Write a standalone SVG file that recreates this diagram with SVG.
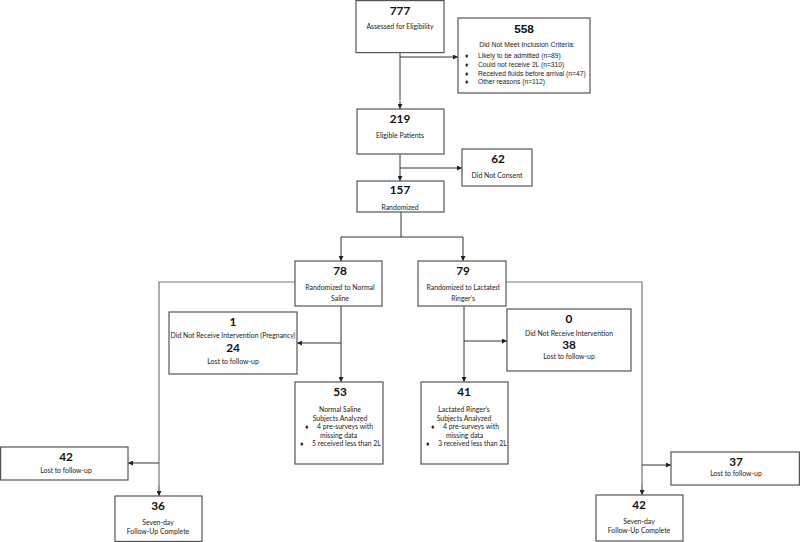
<svg xmlns="http://www.w3.org/2000/svg" width="800" height="542" viewBox="0 0 800 542">
<defs>
<marker id="ah" viewBox="0 0 6 6" refX="6" refY="3" markerWidth="5" markerHeight="5" orient="auto" markerUnits="userSpaceOnUse">
<path d="M0,0 L6,3 L0,6 z" fill="#222"/>
</marker>
<style>
.box{fill:#fff;stroke:#555;stroke-width:1.2}
.num{font-family:Lato,"Open Sans",sans-serif;font-weight:bold;font-size:11.8px;fill:#111;text-anchor:middle}
.lbl{font-family:Lato,"Open Sans",sans-serif;font-size:6.9px;fill:#222;text-anchor:middle}
.lbs{font-family:Lato,"Open Sans",sans-serif;font-size:6.9px;fill:#222}
.ar{font-family:"Liberation Sans",Arial,sans-serif;font-size:6.7px;fill:#222}
.arc{font-family:"Liberation Sans",Arial,sans-serif;font-size:6.9px;fill:#222;text-anchor:middle}
.arn{font-family:"Liberation Sans",Arial,sans-serif;font-weight:bold;font-size:11.8px;fill:#111;text-anchor:middle}
.ln{fill:none;stroke:#333;stroke-width:1}
.lg{fill:none;stroke:#777;stroke-width:1.2}
.arw{fill:none;stroke:#333;stroke-width:1;marker-end:url(#ah)}
</style>
</defs>
<rect width="800" height="542" fill="#fff"/>
<g id="connectors">
<path class="ln" d="M400,53 V100"/>
<path class="arw" d="M400,101 V109"/>
<path class="arw" d="M400,57 H458"/>
<path class="ln" d="M400,154 V170"/>
<path class="arw" d="M400,168 H462"/>
<path class="arw" d="M400,170 V181"/>
<path class="ln" d="M401,212 V237 H341"/>
<path class="ln" d="M401,237 H463"/>
<path class="arw" d="M341,237 V261"/>
<path class="arw" d="M463,237 V261"/>
<path class="ln" d="M341,306 V372"/>
<path class="arw" d="M341,343 H297"/>
<path class="arw" d="M341,372 V382"/>
<path class="ln" d="M464,306 V372"/>
<path class="arw" d="M464,341 H507"/>
<path class="arw" d="M464,372 V382"/>
<path class="lg" d="M295,282 H159 V485"/>
<path class="arw" d="M159,463 H128"/>
<path class="arw" d="M159,485 V496"/>
<path class="lg" d="M506,282 H642 V484"/>
<path class="arw" d="M642,465 H671"/>
<path class="arw" d="M642,484 V495"/>
</g>
<g id="n777">
<rect class="box" x="356" y="0.6" width="88" height="52"/>
<text class="num" x="400" y="15">777</text>
<text class="lbl" x="400" y="29">Assessed for Eligibility</text>
</g>
<g id="n558">
<rect class="box" x="458" y="18" width="132" height="75"/>
<text class="arn" x="524" y="33">558</text>
<text class="arc" x="527" y="47">Did Not Meet Inclusion Criteria:</text>
<text class="ar" x="465" y="58">♦</text><text class="ar" x="478" y="58">Likely to be admitted (n=89)</text>
<text class="ar" x="465" y="67">♦</text><text class="ar" x="478" y="67">Could not receive 2L (n=310)</text>
<text class="ar" x="465" y="76">♦</text><text class="ar" x="478" y="76">Received fluids before arrival (n=47)</text>
<text class="ar" x="465" y="84">♦</text><text class="ar" x="478" y="84">Other reasons (n=112)</text>
</g>
<g id="n219">
<rect class="box" x="357" y="109" width="87" height="45"/>
<text class="num" x="400" y="123">219</text>
<text class="lbl" x="400" y="138">Eligible Patients</text>
</g>
<g id="n62">
<rect class="box" x="462" y="149" width="70" height="37"/>
<text class="num" x="498" y="163">62</text>
<text class="lbl" x="497" y="178">Did Not Consent</text>
</g>
<g id="n157">
<rect class="box" x="357" y="181" width="87" height="31"/>
<text class="num" x="400" y="194">157</text>
<text class="lbl" x="400" y="210">Randomized</text>
</g>
<g id="n78">
<rect class="box" x="295" y="261" width="87" height="45"/>
<text class="num" x="340" y="275">78</text>
<text class="lbl" x="340" y="290">Randomized to Normal</text>
<text class="lbl" x="340" y="301">Saline</text>
</g>
<g id="n79">
<rect class="box" x="418" y="261" width="88" height="45"/>
<text class="num" x="463" y="275">79</text>
<text class="lbl" x="463" y="290">Randomized to Lactated</text>
<text class="lbl" x="463" y="301">Ringer’s</text>
</g>
<g id="n1">
<rect class="box" x="169" y="312" width="128" height="62"/>
<text class="num" x="233" y="326">1</text>
<text class="lbl" x="233" y="338">Did Not Receive Intervention (Pregnancy)</text>
<text class="num" x="233" y="352">24</text>
<text class="lbl" x="233" y="364">Lost to follow-up</text>
</g>
<g id="n0">
<rect class="box" x="507" y="309" width="124" height="62"/>
<text class="num" x="569" y="323">0</text>
<text class="lbl" x="569" y="336">Did Not Receive Intervention</text>
<text class="num" x="569" y="349">38</text>
<text class="lbl" x="569" y="359">Lost to follow-up</text>
</g>
<g id="n53">
<rect class="box" x="295" y="382" width="88" height="82"/>
<text class="num" x="340" y="396">53</text>
<text class="lbl" x="340" y="412">Normal Saline</text>
<text class="lbl" x="340" y="420.5">Subjects Analyzed</text>
<text class="lbs" x="305" y="429">♦</text><text class="lbs" x="317" y="429">4 pre-surveys with</text>
<text class="lbs" x="320" y="437.5">missing data</text>
<text class="lbs" x="300" y="446">♦</text><text class="lbs" x="312" y="446">5 received less than 2L</text>
</g>
<g id="n41">
<rect class="box" x="421" y="382" width="87" height="82"/>
<text class="num" x="464" y="396">41</text>
<text class="lbl" x="464" y="412">Lactated Ringer’s</text>
<text class="lbl" x="464" y="420.5">Subjects  Analyzed</text>
<text class="lbs" x="431" y="429">♦</text><text class="lbs" x="443" y="429">4 pre-surveys with</text>
<text class="lbs" x="446" y="437.5">missing data</text>
<text class="lbs" x="426" y="446">♦</text><text class="lbs" x="438" y="446">3 received less than 2L</text>
</g>
<g id="n42a">
<rect class="box" x="0.6" y="447" width="127.4" height="33"/>
<text class="num" x="66" y="461">42</text>
<text class="lbl" x="66" y="473">Lost to follow-up</text>
</g>
<g id="n36">
<rect class="box" x="115" y="496" width="87" height="45.4"/>
<text class="num" x="158" y="510">36</text>
<text class="lbl" x="158" y="525">Seven-day</text>
<text class="lbl" x="158" y="534">Follow-Up Complete</text>
</g>
<g id="n37">
<rect class="box" x="671" y="452" width="128.4" height="33"/>
<text class="num" x="736" y="466">37</text>
<text class="lbl" x="736" y="475.5">Lost to follow-up</text>
</g>
<g id="n42b">
<rect class="box" x="596" y="495" width="87" height="46"/>
<text class="num" x="639" y="509">42</text>
<text class="lbl" x="639" y="524">Seven-day</text>
<text class="lbl" x="639" y="533">Follow-Up Complete</text>
</g>
</svg>
